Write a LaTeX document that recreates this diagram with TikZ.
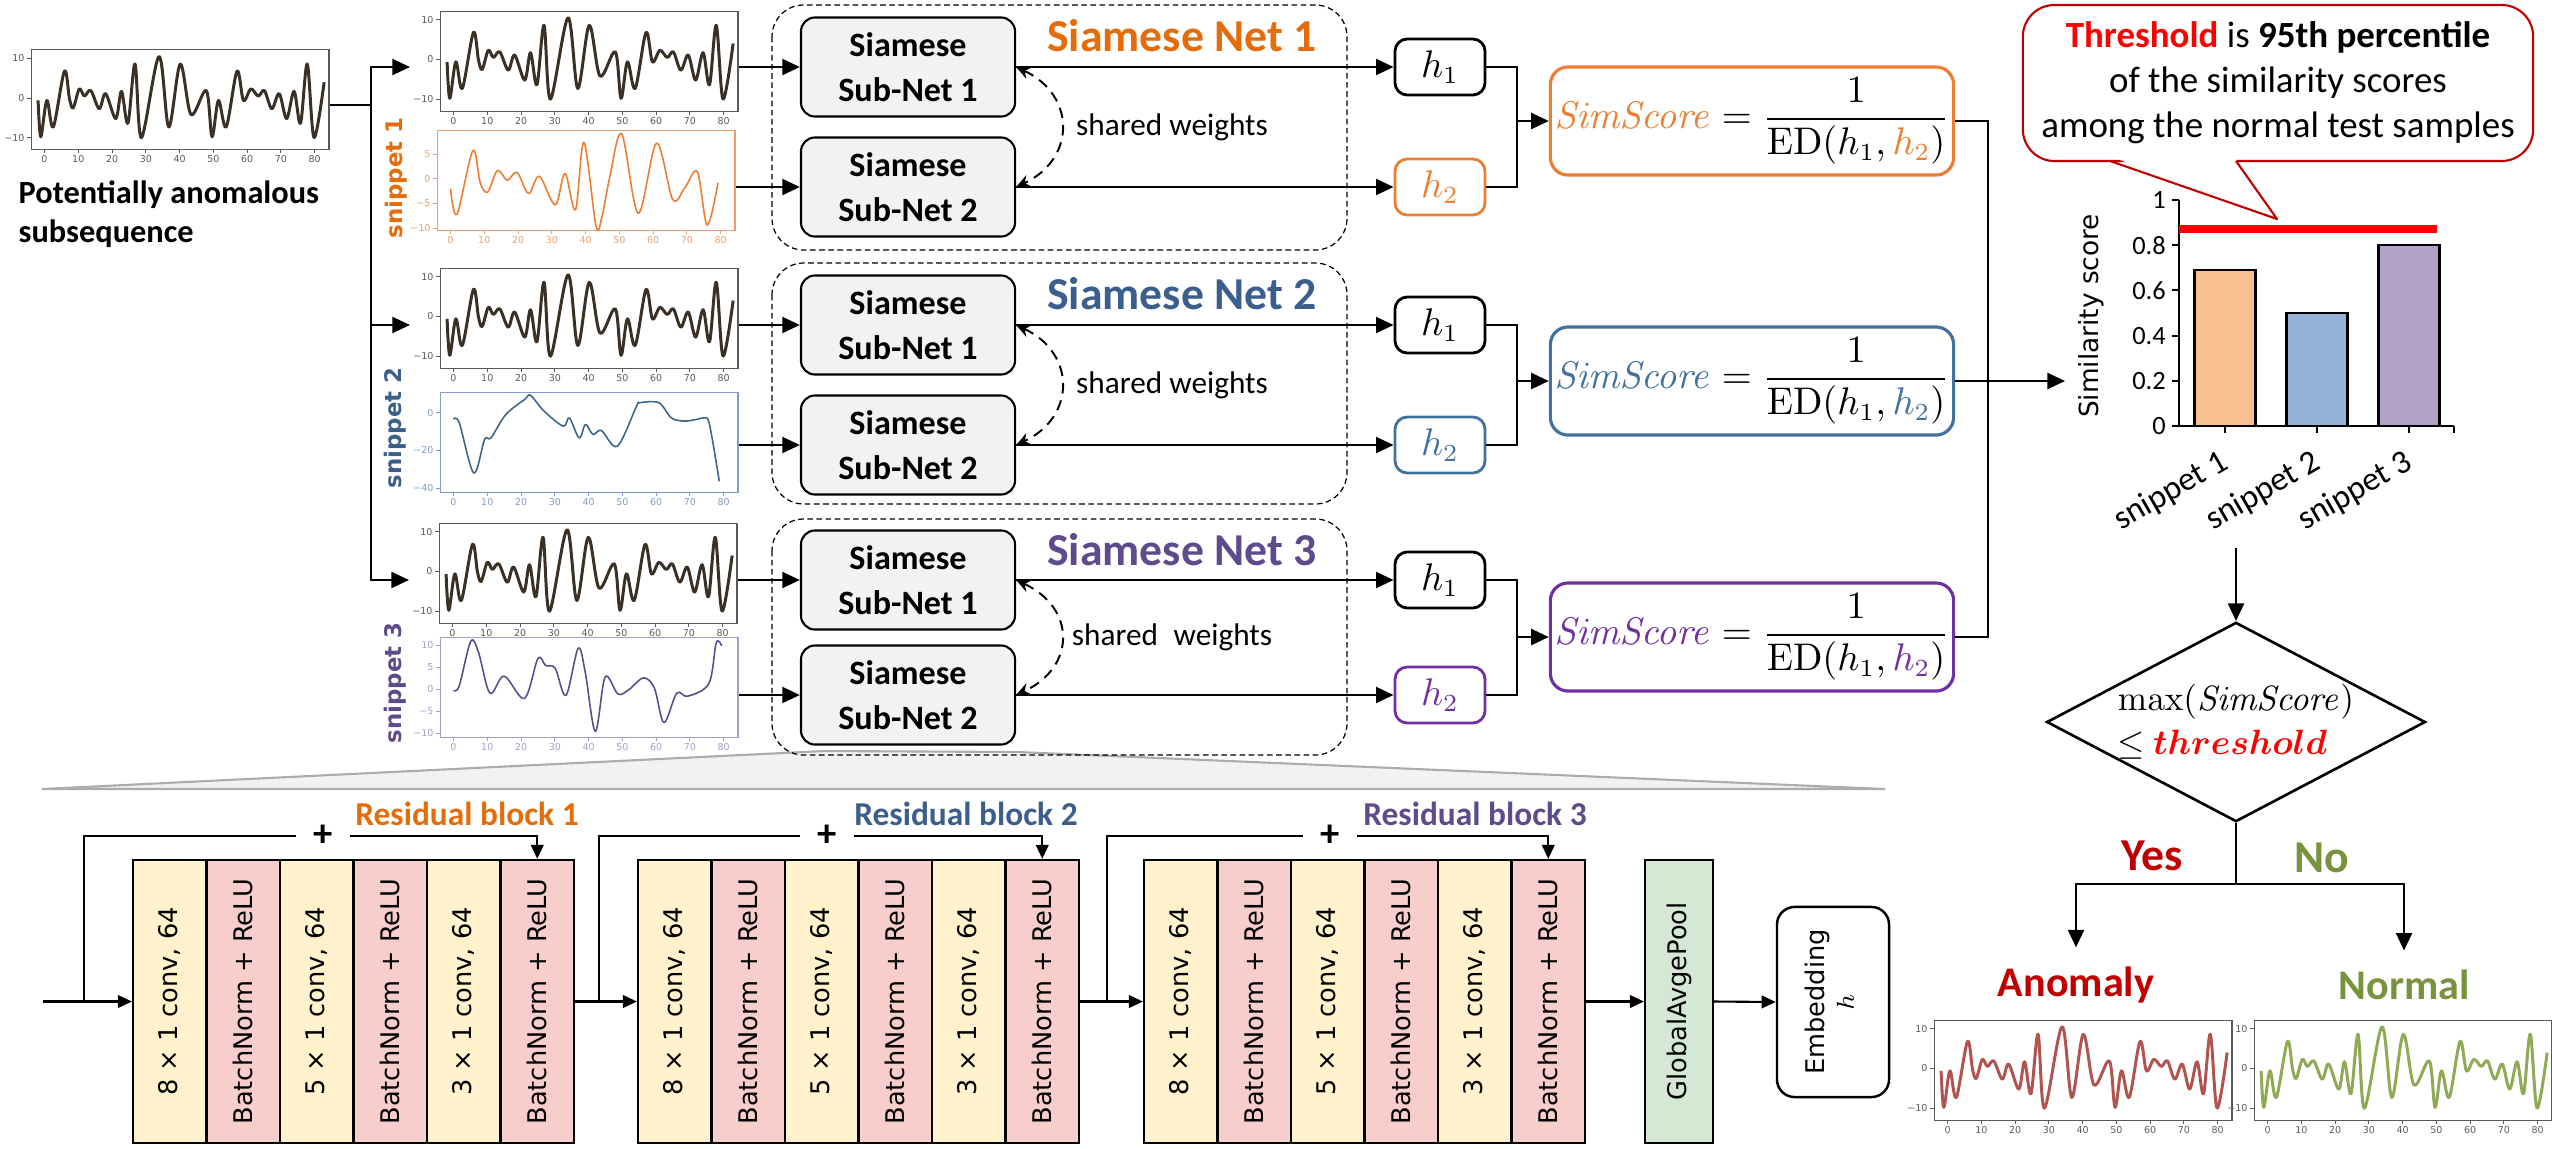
\documentclass[tikz,border=0pt]{standalone}
\usepackage{amsmath}
\usepackage{amssymb}
\usepackage[no-math]{fontspec}
\setmainfont{Carlito}
\newfontfamily\dejavu{DejaVu Sans}
\usepackage{tikz}
\usetikzlibrary{arrows.meta,shapes.geometric}

\definecolor{orangeT}{HTML}{E46C0A}
\definecolor{orangeB}{HTML}{ED7D31}
\definecolor{blueT}{HTML}{3B5E8C}
\definecolor{blueB}{HTML}{41719C}
\definecolor{purpleT}{HTML}{5F4B8B}
\definecolor{purpleB}{HTML}{7030A0}
\definecolor{snipO}{HTML}{EBA06E}
\definecolor{snipB}{HTML}{7F9DCF}
\definecolor{snipP}{HTML}{A99BCB}
\definecolor{serbrown}{HTML}{3B3024}
\definecolor{anored}{HTML}{C00000}
\definecolor{normgreen}{HTML}{77933C}
\definecolor{anoline}{HTML}{B0544F}
\definecolor{normline}{HTML}{8FAA55}
\definecolor{framegray}{HTML}{595959}
\definecolor{boxgray}{HTML}{F2F2F2}
\definecolor{cellyellow}{HTML}{FFF2CC}
\definecolor{cellpink}{HTML}{F8CECC}
\definecolor{cellgreen}{HTML}{D5E8D4}
\definecolor{barO}{HTML}{F9C08F}
\definecolor{barB}{HTML}{95B3D7}
\definecolor{barP}{HTML}{B3A2C7}

\newcommand{\tickfont}{\dejavu\fontsize{2.7}{3.2}\selectfont}
\newcommand{\chartfont}{\fontsize{7.5}{9}\selectfont}

\tikzset{
  arr/.style={-{Triangle[length=5pt,width=4.5pt]}, line width=0.75pt},
  link/.style={line width=0.75pt},
  barr/.style={-{Triangle[length=4pt,width=3.6pt]}, line width=0.6pt},
  blink/.style={line width=0.6pt},
  netbox/.style={draw, line width=0.35pt, dash pattern=on 1.6pt off 1pt, rounded corners=9pt},
  subnet/.style={draw, line width=0.6pt, fill=boxgray, rounded corners=4pt, minimum width=2.14cm,
    minimum height=0.99cm, inner sep=0pt, align=center, font=\fontsize{9.7}{12.8}\selectfont\bfseries},
  nettitle/.style={inner sep=0pt, font=\fontsize{13}{15}\selectfont\bfseries},
  hbox/.style={draw, line width=0.8pt, rounded corners=3.5pt, minimum width=0.9cm, minimum height=0.56cm,
    inner sep=0pt, font=\fontsize{10.5}{12}\selectfont},
  simbox/.style={draw, line width=0.9pt, rounded corners=5pt, minimum width=4.03cm, minimum height=1.08cm,
    inner sep=0pt, font=\fontsize{10.5}{12}\selectfont},
  shared/.style={{Stealth[length=4pt,width=3.6pt]}-{Stealth[length=4pt,width=3.6pt]}, line width=0.55pt,
    dash pattern=on 3pt off 2pt},
  cell/.style={draw, line width=0.6pt, minimum width=0.735cm, minimum height=2.83cm, inner sep=0pt,
    font=\dejavu\fontsize{7.3}{8.5}\selectfont},
  cellyel/.style={cell, fill=cellyellow},
  cellpnk/.style={cell, fill=cellpink},
  plus/.style={inner sep=0pt, minimum width=0.52cm, font=\fontsize{11}{12}\selectfont\bfseries},
  blocktitle/.style={font=\fontsize{9.5}{11}\selectfont\bfseries},
  snip/.style={rotate=90, font=\dejavu\fontsize{6.5}{7.5}\selectfont\bfseries},
  ser/.style={draw=serbrown, line width=0.85pt, line join=round},
  serO/.style={draw=orangeB, line width=0.45pt, line join=round},
  serB/.style={draw=blueB!90!black, line width=0.45pt, line join=round},
  serP/.style={draw=purpleT, line width=0.45pt, line join=round},
  serA/.style={draw=anoline, line width=0.85pt, line join=round},
  serG/.style={draw=normline, line width=0.85pt, line join=round},
  outcome/.style={font=\fontsize{12}{14}\selectfont\bfseries},
  answer/.style={font=\fontsize{13}{15}\selectfont\bfseries}
}

\def\serN{(-1.9,-0.6) (-1.1,-9.8) (0.7,-0.6) (2.6,-7.3) (5.9,6.8) (7.4,-0.2) (8.5,-2.5) (10.3,2.3) (11.8,0.5)
  (13.7,1.9) (16.2,-2.7) (18.1,1.1) (21.1,-5.2) (22.8,1.7) (24.7,-6.4) (26.8,8.6) (28.7,-10) (33.9,10.5)
  (36.8,-7.3) (40.2,8.6) (43.4,-4.2) (47.9,1.9) (49.6,-9.8) (51.5,-0.6) (53.8,-7.3) (57.0,6.8) (58.9,-0.6)
  (61.1,2.3) (63.3,0.5) (65.1,1.9) (67.3,-2.7) (69.5,1.1) (71.7,-5.2) (73.9,1.7) (75.8,-6.4) (77.8,8.6)
  (79.8,-10) (82.8,4)}
\def\serO{(0,-2) (1.9,-7.2) (6.6,5.7) (8.8,-0.8) (11.0,-2.7) (13.9,1.7) (16.8,-0.3) (19.7,1.3) (23.1,-3)
  (26.3,0.5) (31.0,-5.3) (33.9,1.1) (37.0,-6.3) (39.5,7.4) (43.1,-9.6) (44.9,-7.5) (47.2,0.5) (50.7,9.1)
  (55.6,-7) (61.0,7.2) (65.8,-4.2) (69.4,-1.8) (73.1,1.4) (76.0,-9.4) (79.2,-0.8)}
\def\serB{(0,-3.5) (1.7,-5.3) (6.0,-31.9) (9.2,-14.2) (11.1,-13.3) (15.5,-0.9) (21.1,7.1) (22.8,9.2)
  (26.8,0.9) (32.5,-7.1) (34.3,-2.7) (37.2,-13.3) (39.1,-6.2) (41.3,-11.5) (43.8,-9.4) (48.5,-17.7)
  (54.2,3.5) (55.1,5.3) (60.8,5.3) (64.5,-2.7) (68.3,-4.4) (72.1,-3.5) (74.3,-2.7) (75.8,-6.2) (78.7,-36.3)}
\def\serP{(0,-0.3) (1.7,0.8) (5.1,10.9) (7.4,8.4) (10.8,-0.9) (15.0,3) (21.0,-2.1) (25.0,7) (27.3,5.4)
  (30.1,4.8) (33.3,-1.4) (36.9,9.3) (39.0,3.9) (42.0,-9.6) (44.9,2.8) (48.7,-1.1) (51.9,-0.1) (56.3,2.6)
  (59.5,0.2) (62.3,-7.6) (66.1,-0.9) (69.3,-1.6) (75.6,1.3) (77.8,10.6) (79.4,9.9)}

\newcommand{\tscurve}[2]{\draw[#2] plot[smooth, tension=0.55] coordinates {#1};}
\newcommand{\tsplot}[9]{%
  \node[draw=#6, line width=0.4pt, minimum width=2.97cm, minimum height=1cm, inner sep=0pt,
    anchor=north west] (#1) at (#2,#3) {};
  \pgfmathsetmacro\tsunit{1/(#5-(#4))}%
  \begin{scope}[shift={(#2,#3)}, x=0.03375cm, y=\tsunit cm, shift={(4,-#5)}, #6, font=\tickfont]
    \foreach \t in {0,10,...,80}
      \draw[line width=0.3pt] (\t,#4) -- ++(0pt,-1.2pt) node[below, inner sep=0.5pt] {\t};
    \foreach \v/\l in {#7}
      \draw[line width=0.3pt] (-4,\v) -- ++(-1.2pt,0pt) node[left, inner sep=0.5pt] {\l};
    \edef\tsdata{#9}%
    \expandafter\tscurve\expandafter{\tsdata}{#8}%
  \end{scope}}

\begin{document}
\begin{tikzpicture}[x=0.01cm, y=-0.01cm]
    \useasboundingbox (0,0) rectangle (2552,1148);

    \filldraw[fill=boxgray, draw=gray!65, line width=0.6pt] (42,789) -- (824,751) -- (1018,752) -- (1885,789) -- cycle;

    \tsplot{pin}{31}{49}{-12.9}{12.4}{framegray}{10/10,0/0,-10/−10}{ser}{\serN}
    \tsplot{pn1}{440}{11}{-13}{12.2}{framegray}{10/10,0/0,-10/−10}{ser}{\serN}
    \tsplot{ps1}{437}{130}{-10.4}{9.9}{snipO}{5/5,0/0,-5/−5,-10/−10}{serO}{\serO}
    \tsplot{pn2}{440}{268}{-13}{12.2}{framegray}{10/10,0/0,-10/−10}{ser}{\serN}
    \tsplot{ps2}{440}{392}{-42}{11}{snipB}{0/0,-20/−20,-40/−40}{serB}{\serB}
    \tsplot{pn3}{439}{523}{-13}{12.2}{framegray}{10/10,0/0,-10/−10}{ser}{\serN}
    \tsplot{ps3}{440}{637}{-10.9}{11.9}{snipP}{10/10,5/5,0/0,-5/−5,-10/−10}{serP}{\serP}
    \tsplot{pano}{1934}{1020}{-13}{12.2}{framegray}{10/10,0/0,-10/−10}{serA}{\serN}
    \tsplot{pnor}{2254}{1020}{-13}{12.2}{framegray}{10/10,0/0,-10/−10}{serG}{\serN}

    \node[anchor=north west, inner sep=0pt, align=left, font=\fontsize{9.2}{11.1}\selectfont\bfseries] (inlab) at (18,180)
      {Potentially anomalous\\subsequence};
    \node[snip, text=orangeT] (sn1) at (396,178) {snippet 1};
    \node[snip, text=blueT] (sn2) at (395,428) {snippet 2};
    \node[snip, text=purpleT] (sn3) at (395,683) {snippet 3};

    \foreach \n/\ty/\by/\ya/\yb/\sy/\ct/\cb/\sw in {
        1/5/250/67/187/121/orangeT/orangeB/{shared weights},
        2/263/504/325/445/381/blueT/blueB/{shared weights},
        3/519/755/580/695/637/purpleT/purpleB/{shared\enspace weights}} {
      \draw[netbox] (772,\ty) rectangle (1347,\by);
      \node[subnet] (s\n-a) at (908,\ya) {Siamese\\Sub-Net 1};
      \node[subnet] (s\n-b) at (908,\yb) {Siamese\\Sub-Net 2};
      \node[nettitle, text=\ct] (t\n) at (1182,{\ty+31}) {Siamese Net \n};
      \node[hbox] (h\n-a) at (1440,\ya) {$h_1$};
      \node[hbox, draw=\cb, text=\cb] (h\n-b) at (1440,\yb) {$h_2$};
      \node[simbox, draw=\cb] (sim\n) at (1752,\sy)
        {${\color{\cb}\mathit{SimScore}}=\dfrac{1}{\mathrm{ED}(h_1,{\color{\cb}h_2})}$};
      \node[font=\fontsize{8.9}{10}\selectfont] (sw\n) at (1172,{(\ya+\yb)/2}) {\sw};
      \coordinate (j\n) at (1517,\sy);
      \draw[arr] (s\n-a.east) -- (h\n-a.west);
      \draw[arr] (s\n-b.east) -- (h\n-b.west);
      \draw[shared] (s\n-a.east) .. controls +(60,28) and +(60,-28) .. (s\n-b.east);
      \draw[link] (h\n-a.east) -| (j\n) |- (h\n-b.east);
      \draw[arr] (j\n) -- (sim\n.west);
      \draw[arr] (pn\n.east |- s\n-a.west) -- (s\n-a.west);
      \draw[arr] (ps\n.east |- s\n-b.west) -- (s\n-b.west);
    }

    \coordinate (fork) at (371,105);
    \draw[link] (pin.east |- fork) -- (fork);
    \foreach \n in {1,2,3}
      \draw[arr, shorten >=0.3cm] (fork) |- (pn\n.west |- s\n-a.west);

    \coordinate (cbus) at (1988,381);
    \coordinate (chartin) at (2065,381);
    \draw[link] (sim1.east) -| (cbus) |- (sim3.east);
    \draw[arr] (sim2.east) -- (chartin);

    \draw[line width=0.6pt] (2179,200) -- (2179,426) -- (2454,426);
    \foreach \v in {0,0.2,0.4,0.6,0.8,1}
      \draw[line width=0.6pt] (2172,{426-226*\v}) -- (2179,{426-226*\v}) node[pos=0, left, inner sep=1.5pt, font=\chartfont] {\v};
    \foreach \c/\h/\col [count=\i] in {2225/0.69/barO, 2317/0.5/barB, 2409/0.8/barP} {
      \filldraw[fill=\col, line width=0.6pt] ({\c-30.5},426) rectangle ({\c+30.5},{426-226*\h});
      \draw[line width=0.6pt] (\c,426) -- (\c,433);
      \node[rotate=30, anchor=east, inner sep=1pt, font=\fontsize{9.5}{11}\selectfont] (cat\i) at ({\c+4},458) {snippet \i};
    }
    \draw[line width=0.6pt] (2454,426) -- (2454,433);
    \draw[red, line width=2.3pt] (2179,229) -- (2437,229);
    \node[rotate=90, font=\dejavu\fontsize{7.5}{9}\selectfont] (simlab) at (2091,316) {Similarity score};

    \node[draw=anored, line width=0.6pt, rounded corners=9pt, minimum width=5.1cm, minimum height=1.56cm, fill=white,
      align=center, font=\fontsize{10.5}{12.8}\selectfont] (thr) at (2278,83)
      {{\color{red}\bfseries Threshold} is \textbf{95th percentile}\\of the similarity scores\\among the normal test samples};
    \fill[white] (2112,157) -- (2277,219) -- (2234,157) -- cycle;
    \draw[anored, line width=0.6pt, line join=round] (2110,161) -- (2277,219) -- (2236,161);

    \coordinate (chartout) at (2236,548);
    \node[diamond, draw, line width=0.75pt, aspect=1.9, minimum width=3.78cm, minimum height=1.99cm, inner sep=0pt,
      align=left, font=\fontsize{9.8}{12.5}\selectfont] (dec) at (2236,722)
      {$\max(\mathit{SimScore})$\\$\leq$ {\color{red}$\boldsymbol{threshold}$}};
    \draw[arr] (chartout) -- (dec.north);
    \coordinate (split) at (2236,884);
    \node[answer, text=anored] (yes) at (2152,856) {Yes};
    \node[answer, text=normgreen] (no) at (2322,858) {No};
    \node[outcome, text=anored] (anolab) at (2076,985) {Anomaly};
    \node[outcome, text=normgreen] (norlab) at (2404,985) {Normal};
    \draw[link] (dec.south) -- (split);
    \draw[arr, shorten >=2pt] (split) -| (anolab.north);
    \draw[arr, shorten >=2pt] (split) -| (norlab.north);

    \foreach \b/\bx in {1/133, 2/638, 3/1144}
      \foreach \k/\lab [count=\i] in {yel/{8 × 1 conv, 64}, pnk/{BatchNorm + ReLU}, yel/{5 × 1 conv, 64},
          pnk/{BatchNorm + ReLU}, yel/{3 × 1 conv, 64}, pnk/{BatchNorm + ReLU}}
        \node[cell\k] (r\b-\i) at ({\bx+(\i-0.5)*73.5},1001.5) {\rotatebox{90}{\lab}};
    \node[cell, fill=cellgreen, minimum width=0.68cm] (gap) at (1679,1001.5) {\rotatebox{90}{GlobalAvgePool}};
    \node[draw, line width=0.7pt, rounded corners=5pt, minimum width=1.12cm, minimum height=1.9cm, inner sep=0pt,
      font=\dejavu\fontsize{7.3}{8.5}\selectfont] (emb) at (1833,1002)
      {\rotatebox{90}{\begin{tabular}{@{}c@{}}Embedding\\$h$\end{tabular}}};

    \node[blocktitle, text=orangeT] (rb1) at (467,814) {Residual block 1};
    \node[blocktitle, text=blueT] (rb2) at (966,814) {Residual block 2};
    \node[blocktitle, text=purpleT] (rb3) at (1475,814) {Residual block 3};
    \node[plus] (plus1) at (323,836) {+};
    \node[plus] (plus2) at (827,836) {+};
    \node[plus] (plus3) at (1330,836) {+};
    \coordinate (rin) at (43,1001.5);
    \coordinate (sk1) at (84,1001.5);
    \coordinate (sk2) at (599,1001.5);
    \coordinate (sk3) at (1107,1001.5);
    \draw[barr] (rin) -- (r1-1.west);
    \draw[barr] (r1-6.east) -- (r2-1.west);
    \draw[barr] (r2-6.east) -- (r3-1.west);
    \draw[barr] (r3-6.east) -- (gap.west);
    \draw[barr] (gap.east) -- (emb.west);
    \foreach \b in {1,2,3} {
      \draw[blink] (sk\b) |- (plus\b.west);
      \draw[barr] (plus\b.east) -| (r\b-6.north);
    }
\end{tikzpicture}
\end{document}
